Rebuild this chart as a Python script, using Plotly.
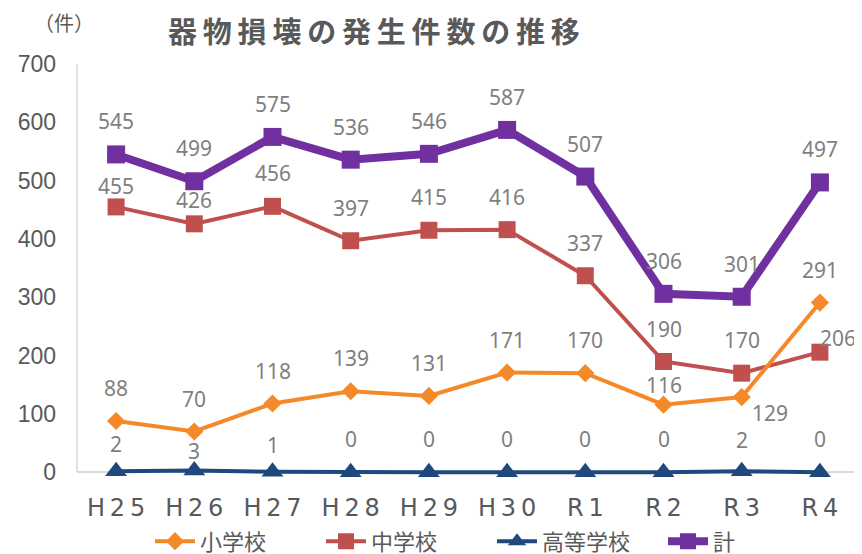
import plotly.graph_objects as go

categories = ["H25", "H26", "H27", "H28", "H29", "H30", "R1", "R2", "R3", "R4"]
elementary = [88, 70, 118, 139, 131, 171, 170, 116, 129, 291]
junior = [455, 426, 456, 397, 415, 416, 337, 190, 170, 206]
high = [2, 3, 1, 0, 0, 0, 0, 0, 2, 0]
total = [545, 499, 575, 536, 546, 587, 507, 306, 301, 497]

series_names = ["小学校", "中学校", "高等学校", "計"]
title_text = "器物損壊の発生件数の推移"
unit_text = "（件）"

C_ORANGE = "#F5892A"
C_RED = "#C0504D"
C_BLUE = "#1F497D"
C_PURPLE = "#7030A0"
TXT = "#595959"
LBL = "#7F7F7F"
CJK = "Noto Sans CJK JP"
THIN = "\u2009"

Y_MIN, Y_MAX = -20, 700   # a little room under 0 so the triangles are not cut

# the page body has an 8px margin: lay the figure out in page pixels minus 8
OFF = 8
W, H = 862 - OFF, 554 - OFF
PX_PER_UNIT = (472 - 64) / 700
PL, PR = 77 - OFF, 859 - OFF
PT = 64 - OFF
PB = 472 - OFF + (-Y_MIN) * PX_PER_UNIT
PW, PH = PR - PL, PB - PT

def px_x(page_x):
    return (page_x - OFF - PL) / PW

def px_y(page_y):
    return (PB - (page_y - OFF)) / PH

fig = go.Figure()

# draw order: red, orange, blue, purple (orange passes over red)
fig.add_trace(go.Scatter(
    x=categories, y=junior, name=series_names[1], mode="lines+markers", cliponaxis=False,
    line=dict(color=C_RED, width=4), marker=dict(symbol="square", size=17, color=C_RED),
    legendrank=2))
fig.add_trace(go.Scatter(
    x=categories, y=elementary, name=series_names[0], mode="lines+markers", cliponaxis=False,
    line=dict(color=C_ORANGE, width=4), marker=dict(symbol="diamond", size=14, color=C_ORANGE),
    legendrank=1))
fig.add_trace(go.Scatter(
    x=categories, y=high, name=series_names[2], mode="lines+markers", cliponaxis=False,
    line=dict(color=C_BLUE, width=4),
    marker=dict(symbol="triangle-up", size=19, color=C_BLUE, line=dict(width=0)),
    legendrank=3))
fig.add_trace(go.Scatter(
    x=categories, y=total, name=series_names[3], mode="lines+markers", cliponaxis=False,
    line=dict(color=C_PURPLE, width=8), marker=dict(symbol="square", size=18, color=C_PURPLE),
    legendrank=4))

annotations = []
def add_labels(vals, special=None):
    special = special or {}
    for i, (c, v) in enumerate(zip(categories, vals)):
        xs, ys = special.get(i, (0, 33))
        annotations.append(dict(
            x=c, y=v, xref="x", yref="y", text=str(v), showarrow=False,
            xshift=xs, yshift=ys, font=dict(family="Noto Sans", size=21, color=LBL)))

add_labels(elementary, {7: (0, 20), 8: (28, -16)})
add_labels(junior, {0: (0, 21), 1: (0, 24), 9: (18, 14)})
add_labels(high, {0: (0, 27), 1: (0, 20), 2: (0, 27), 8: (0, 31)})
add_labels(total)

annotations.append(dict(
    text=unit_text, xref="paper", yref="paper", x=px_x(64), y=px_y(23),
    showarrow=False, font=dict(family=CJK, size=20, color=TXT), xanchor="center", yanchor="middle"))
annotations.append(dict(
    text=THIN.join(title_text), xref="paper", yref="paper", x=px_x(374), y=px_y(30),
    showarrow=False, font=dict(family=CJK, size=29, color=TXT, weight="bold"),
    xanchor="center", yanchor="middle"))

fig.update_layout(
    width=W, height=H,
    margin=dict(l=PL, r=W - PR, t=PT, b=H - PB, autoexpand=False),
    paper_bgcolor="white", plot_bgcolor="white",
    showlegend=True,
    legend=dict(orientation="h", x=px_x(150), xanchor="left", y=px_y(541),
                yanchor="middle", font=dict(family=CJK, size=22, color=TXT),
                itemwidth=40, entrywidth=116, entrywidthmode="pixels",
                tracegroupgap=0, traceorder="normal"),
    annotations=annotations,
    shapes=[dict(type="line", xref="paper", x0=0, x1=0, yref="y", y0=0, y1=Y_MAX,
                 line=dict(color="#D9D9D9", width=1.5), layer="below")],
)
fig.update_xaxes(
    type="category", range=[-0.5, 9.5], showgrid=False, zeroline=False, showline=False,
    tickmode="array", tickvals=categories, ticktext=[THIN.join(c) for c in categories],
    tickfont=dict(family="DejaVu Sans", size=24, color=TXT), ticks="", ticklabelstandoff=7)
fig.update_yaxes(
    range=[Y_MIN, Y_MAX], tickvals=list(range(0, 701, 100)), showgrid=False,
    zeroline=True, zerolinecolor="#D9D9D9", zerolinewidth=2, showline=False,
    layer="below traces",
    tickfont=dict(family="Liberation Sans", size=23, color=TXT), ticks="", ticklabelstandoff=20)

fig.write_html("out.html")
